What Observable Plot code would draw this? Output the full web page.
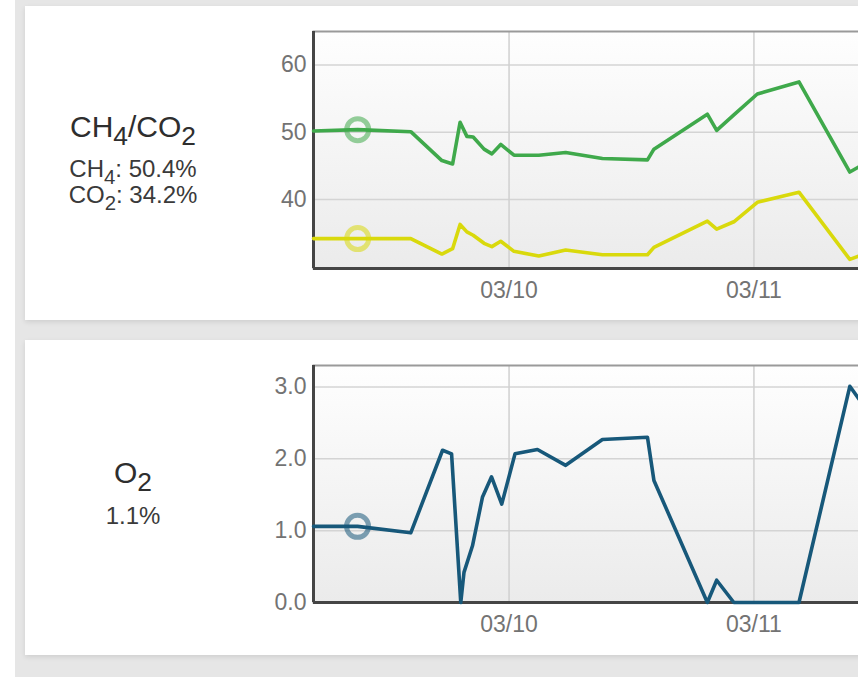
<!DOCTYPE html>
<html><head><meta charset="utf-8">
<script src="https://cdn.jsdelivr.net/npm/d3@7"></script>
<script src="https://cdn.jsdelivr.net/npm/@observablehq/plot@0.6"></script>
<style>
html,body{margin:0;padding:0;width:858px;height:677px;overflow:hidden;background:#fff;font-family:"Liberation Sans",Arial,sans-serif;}
#bg{position:absolute;left:15px;top:0;width:900px;height:677px;background:#e6e6e6;}
.panel{position:absolute;left:25px;width:900px;background:#fff;box-shadow:0 2px 5px rgba(0,0,0,0.10);}
.label{position:absolute;left:33px;width:200px;text-align:center;color:#333;}
.title{font-size:30px;line-height:30px;color:#2e2e2e;}
.val{font-size:24px;line-height:26px;color:#3a3a3a;}
.title sub{font-size:0.88em;}
sub{font-size:0.85em;vertical-align:-0.32em;line-height:0;}
.chart{position:absolute;left:240px;width:680px;}
.chart svg{max-width:none !important;}
</style></head><body>
<div id="bg"></div>
<div class="panel" style="top:6px;height:314px"></div>
<div class="panel" style="top:340px;height:315px"></div>
<div class="label title" style="top:112px">CH<sub>4</sub>/CO<sub>2</sub></div>
<div class="label val" id="gasVals" style="top:156px"></div>
<div class="label title" style="top:458px">O<sub>2</sub></div>
<div class="label val" id="o2Val" style="top:503px"></div>
<div class="chart" id="c1" style="top:10px"></div>
<div class="chart" id="c2" style="top:345px"></div>
<script>
// ---- data ----
const gasTimes = ["03/09 04:50","03/09 09:10","03/09 14:22","03/09 17:25","03/09 18:28","03/09 19:12","03/09 19:52","03/09 20:29","03/09 21:33","03/09 22:19","03/09 23:11","03/10 00:29","03/10 02:55","03/10 05:33","03/10 09:09","03/10 13:34","03/10 14:12","03/10 19:26","03/10 20:21","03/10 22:02","03/11 00:20","03/11 04:25","03/11 09:24","03/11 12:25"];
const ch4 = [50.2,50.4,50.1,45.8,45.3,51.5,49.4,49.3,47.5,46.8,48.2,46.6,46.6,47.0,46.1,45.9,47.5,52.7,50.3,52.6,55.7,57.5,44.1,46.7];
const co2 = [34.2,34.2,34.2,31.9,32.7,36.3,35.2,34.7,33.5,33.0,33.8,32.3,31.6,32.5,31.8,31.8,32.9,36.8,35.6,36.7,39.6,41.1,31.1,32.8];
const o2Times = ["03/09 04:50","03/09 09:09","03/09 14:22","03/09 17:29","03/09 18:22","03/09 19:16","03/09 19:35","03/09 20:25","03/09 21:24","03/09 22:17","03/09 23:17","03/10 00:35","03/10 02:47","03/10 05:33","03/10 09:09","03/10 13:34","03/10 14:12","03/10 19:26","03/10 20:21","03/10 22:02","03/11 04:25","03/11 09:24","03/11 12:25"];
const o2 = [1.06,1.06,0.97,2.12,2.07,0.0,0.42,0.79,1.47,1.75,1.37,2.07,2.13,1.91,2.27,2.30,1.70,0.0,0.31,0.0,0.0,3.01,2.41];
const xDomainLabels = ["03/09 04:50","03/11 14:22"];
const xTickLabels = ["03/10 00:00","03/11 00:00"];
const gasYTicks = [40,50,60];
const gasYDomain = [29.75,65];
const o2YTicks = [0,1,2,3];
const o2YDomain = [0,3.3];
const markerIndex = 1;
const colors = {ch4:"#3fa94b", co2:"#d9d90c", o2:"#17587a"};

const parse = d3.timeParse("%m/%d %H:%M");
const xDomain = xDomainLabels.map(parse);
const xTicks = xTickLabels.map(parse);

document.getElementById("gasVals").innerHTML =
  `CH<sub>4</sub>: ${ch4[markerIndex].toFixed(1)}%<br>CO<sub>2</sub>: ${co2[markerIndex].toFixed(1)}%`;
document.getElementById("o2Val").textContent = `${o2[markerIndex].toFixed(1)}%`;

function makeChart({height, marginTop, yDomain, yTicks, yFormat, series, gradId}) {
  const marks = [
    Plot.frame({fill: `url(#${gradId})`, stroke: "none"}),
    Plot.gridY(yTicks, {stroke: "#d4d4d4", strokeOpacity: 1, strokeWidth: 1.5}),
    Plot.gridX(xTicks, {stroke: "#d0d0d0", strokeOpacity: 1, strokeWidth: 1.5}),
    Plot.frame({stroke: "#9a9a9a", strokeWidth: 2}),
    Plot.ruleX([xDomain[0]], {stroke: "#454545", strokeWidth: 3}),
    Plot.ruleY([yDomain[0]], {stroke: "#454545", strokeWidth: 3})
  ];
  for (const s of series) {
    const data = s.times.map((t, i) => ({t: parse(t), v: s.values[i]}));
    marks.push(Plot.line(data, {x: "t", y: "v", stroke: s.color, strokeWidth: 3.6, strokeLinejoin: "round"}));
  }
  for (const s of series) {
    const d = [{t: parse(s.times[markerIndex]), v: s.values[markerIndex]}];
    marks.push(Plot.dot(d, {x: "t", y: "v", r: 11, fill: "none", stroke: s.color, strokeOpacity: 0.55, strokeWidth: 5}));
  }
  const svg = Plot.plot({
    width: 680, height, marginLeft: 73, marginRight: 20, marginTop, marginBottom: 40,
    style: {fontFamily: "'Liberation Sans', Arial, sans-serif", fontSize: "23px", color: "#737373", background: "transparent", overflow: "visible", maxWidth: "none"},
    x: {type: "time", domain: xDomain, ticks: xTicks, tickFormat: d3.timeFormat("%m/%d"), tickSize: 0, tickPadding: 13, label: null},
    y: {domain: yDomain, ticks: yTicks, tickFormat: yFormat, tickSize: 0, tickPadding: 7, label: null},
    marks
  });
  d3.select(svg).insert("defs", ":first-child").html(
    `<linearGradient id="${gradId}" x1="0" y1="0" x2="0" y2="1"><stop offset="0" stop-color="#fefefe"/><stop offset="1" stop-color="#ebebeb"/></linearGradient>`);
  return svg;
}

document.getElementById("c1").append(makeChart({
  height: 298, marginTop: 21, yDomain: gasYDomain, yTicks: gasYTicks, yFormat: d3.format("d"), gradId: "g1",
  series: [
    {times: gasTimes, values: ch4, color: colors.ch4},
    {times: gasTimes, values: co2, color: colors.co2}
  ]
}));
document.getElementById("c2").append(makeChart({
  height: 297, marginTop: 20, yDomain: o2YDomain, yTicks: o2YTicks, yFormat: d3.format(".1f"), gradId: "g2",
  series: [{times: o2Times, values: o2, color: colors.o2}]
}));
</script>
</body></html>
